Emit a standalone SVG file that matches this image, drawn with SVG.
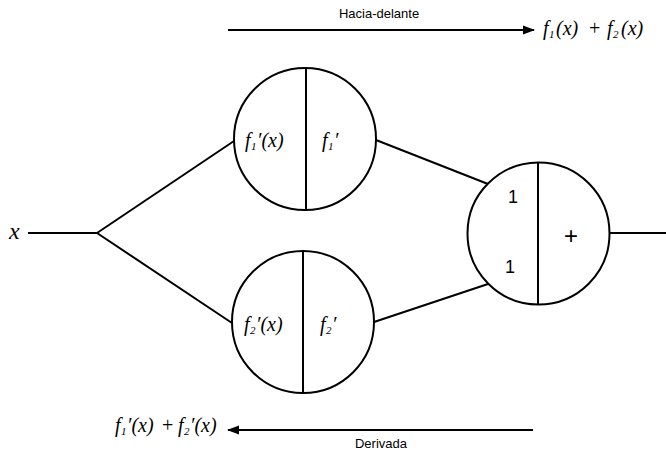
<svg xmlns="http://www.w3.org/2000/svg" width="666" height="452" viewBox="0 0 666 452">
<style>
.c{fill:#fff;stroke:#000;stroke-width:2}
.l{stroke:#000;stroke-width:2;fill:none}
.m{font-family:'Liberation Serif','Times New Roman',Times,serif;font-style:italic;font-size:20px;fill:#000}
.s{font-size:11px}
.u{font-style:normal}
.h{font-family:'Liberation Sans',Arial,Helvetica,sans-serif;font-size:13px;fill:#000}
.n{font-family:'Liberation Sans',Arial,Helvetica,sans-serif;font-size:18px;fill:#000}
</style>
<defs>
<marker id="ah" markerWidth="12" markerHeight="10" refX="11" refY="5" orient="auto" markerUnits="userSpaceOnUse">
<path d="M0,0.5 L12,5 L0,9.5 Z" fill="#000"/>
</marker>
</defs>
<g id="connectors">
<line class="l" x1="28" y1="233" x2="97" y2="233"/>
<line class="l" x1="97" y1="233" x2="234" y2="141"/>
<line class="l" x1="97" y1="233" x2="232" y2="323"/>
<line class="l" x1="376" y1="140" x2="488" y2="184"/>
<line class="l" x1="374" y1="322" x2="488" y2="284"/>
<line class="l" x1="609" y1="233" x2="666" y2="233"/>
<line class="l" x1="228" y1="30" x2="534" y2="30" marker-end="url(#ah)"/>
<line class="l" x1="533" y1="430" x2="228" y2="430" marker-end="url(#ah)"/>
</g>
<g id="x-input">
<text class="m" x="9" y="239" style="font-size:24px">x</text>
</g>
<g id="node-f1">
<circle class="c" cx="305" cy="139" r="71"/>
<line class="l" x1="306" y1="68" x2="306" y2="210"/>
<text class="m" y="147"><tspan x="245">f</tspan><tspan class="s" x="251" dy="3">1</tspan><tspan x="257" dy="-3">′(x)</tspan></text>
<text class="m" y="147"><tspan x="322">f</tspan><tspan class="s" x="328" dy="3">1</tspan><tspan x="334" dy="-3">′</tspan></text>
</g>
<g id="node-f2">
<circle class="c" cx="303" cy="322" r="71"/>
<line class="l" x1="303" y1="251" x2="303" y2="393"/>
<text class="m" y="331"><tspan x="244">f</tspan><tspan class="s" x="250" dy="3">2</tspan><tspan x="256" dy="-3">′(x)</tspan></text>
<text class="m" y="331"><tspan x="320">f</tspan><tspan class="s" x="326" dy="3">2</tspan><tspan x="332" dy="-3">′</tspan></text>
</g>
<g id="node-sum">
<circle class="c" cx="538.5" cy="233.5" r="71"/>
<line class="l" x1="538" y1="162" x2="538" y2="305"/>
<text class="n" x="508" y="203">1</text>
<text class="n" x="505" y="273">1</text>
<text class="n" x="564" y="244" style="font-size:24px">+</text>
</g>
<g id="labels">
<text class="h" x="379" y="18" text-anchor="middle">Hacia-delante</text>
<text class="m" y="35"><tspan x="543">f</tspan><tspan class="s" x="549" dy="3">1</tspan><tspan x="556" dy="-3">(x)</tspan><tspan class="u" x="589">+</tspan><tspan x="607">f</tspan><tspan class="s" x="613" dy="3">2</tspan><tspan x="621" dy="-3">(x)</tspan></text>
<text class="h" x="381" y="448" text-anchor="middle">Derivada</text>
<text class="m" y="432"><tspan x="115">f</tspan><tspan class="s" x="121" dy="3">1</tspan><tspan x="127" dy="-3">′(x)</tspan><tspan class="u" x="162">+</tspan><tspan x="178">f</tspan><tspan class="s" x="184" dy="3">2</tspan><tspan x="190" dy="-3">′(x)</tspan></text>
</g>
</svg>
